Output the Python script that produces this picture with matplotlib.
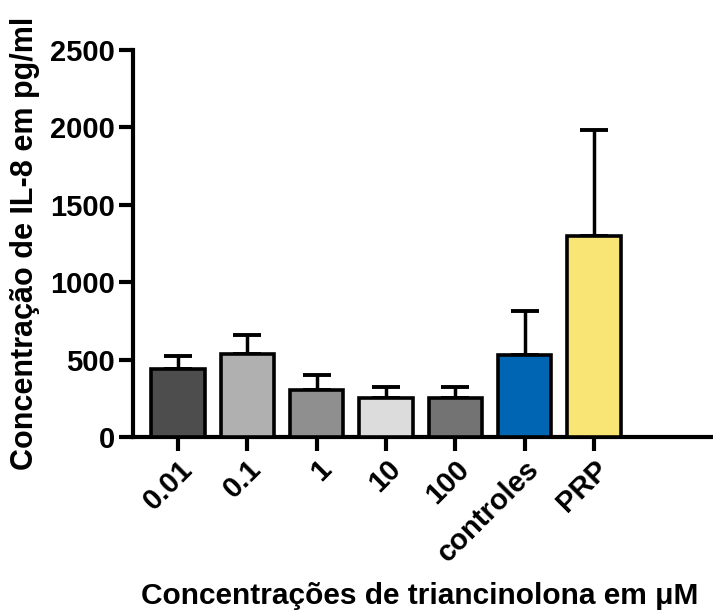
import matplotlib.pyplot as plt

plt.rcParams['font.family'] = ['Liberation Sans', 'DejaVu Sans']

categories = ['0.01', '0.1', '1', '10', '100', 'controles', 'PRP']
means = [437, 534, 304, 250, 254, 528, 1298]
errors = [86, 123, 95, 75, 67, 284, 685]
colors = ['#4d4d4d', '#b0b0b0', '#8f8f8f', '#dcdcdc', '#737373', '#0066b3', '#f9e476']

fig = plt.figure(figsize=(7.13, 6.16), dpi=100)
ax = fig.add_axes([0.1865, 0.2906, 0.812, 0.6282])

x = range(len(categories))
ax.bar(x, means, width=0.77, color=colors, edgecolor='black', linewidth=2.6, zorder=3)
ax.errorbar(x, means, yerr=[[0] * len(errors), errors], fmt='none', ecolor='black',
            elinewidth=2.5, capsize=10, capthick=2.8, zorder=2)

ax.set_ylim(0, 2500)
ax.set_xlim(-0.65, 7.7)
ax.set_yticks([0, 500, 1000, 1500, 2000, 2500])
ax.set_xticks(list(x))
ax.set_xticklabels(categories, rotation=45, ha='right', rotation_mode='anchor')

for side in ['top', 'right']:
    ax.spines[side].set_visible(False)
for side in ['left', 'bottom']:
    ax.spines[side].set_linewidth(3)

ax.tick_params(axis='both', length=10, width=3, labelsize=21, pad=3)
for lbl in ax.get_xticklabels() + ax.get_yticklabels():
    lbl.set_fontweight('bold')

ax.set_ylabel('Concentração de IL-8 em pg/ml', fontsize=22, fontweight='bold', labelpad=7)
ax.set_xlabel('Concentrações de triancinolona em μM', fontsize=21.5, fontweight='bold')
ax.xaxis.set_label_coords(0.495, -0.375)

fig.savefig('out.png', dpi=100)
